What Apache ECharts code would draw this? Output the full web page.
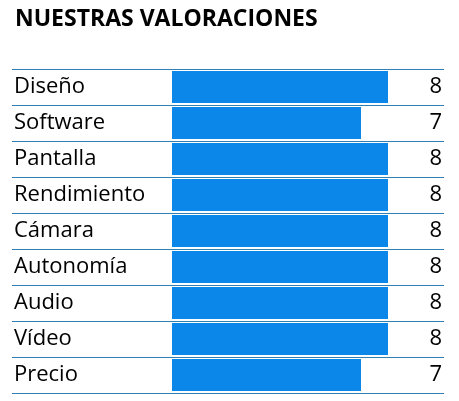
<!DOCTYPE html><html><head><meta charset="utf-8"><script src="https://cdn.jsdelivr.net/npm/echarts@6/dist/echarts.min.js"></script></head><body style="margin:0"><div id="c" style="width:459px;height:401px"></div><script>
const categories=["Diseño","Software","Pantalla","Rendimiento","Cámara","Autonomía","Audio","Vídeo","Precio"];
const values=[8,7,8,8,8,8,8,8,7];
const chart=echarts.init(document.getElementById('c'));
const lbl={fontFamily:'Open Sans',fontSize:22,color:'#000',padding:[6,0,0,0]};
chart.setOption({
 animation:false,
 title:{text:'NUESTRAS VALORACIONES',left:10,top:3,textStyle:{fontFamily:'Open Sans',fontWeight:'bold',fontSize:23,color:'#000'}},
 grid:{left:12,right:15,top:69,bottom:8},
 xAxis:{type:'value',min:-160/27,max:272/27,show:false},
 yAxis:[{type:'category',data:categories,inverse:true,axisLine:{show:false},axisTick:{show:false},
   splitLine:{show:true,lineStyle:{color:'#2f7fb0',width:1.2}},
   axisLabel:Object.assign({inside:true,margin:2},lbl)},
  {type:'category',data:values.map(String),inverse:true,position:'right',axisLine:{show:false},axisTick:{show:false},
   splitLine:{show:false},
   axisLabel:Object.assign({inside:true,margin:2},lbl)}],
 series:[{type:'bar',data:values,barCategoryGap:'11%',itemStyle:{color:'#0a87e8'}}]
});
</script></body></html>
